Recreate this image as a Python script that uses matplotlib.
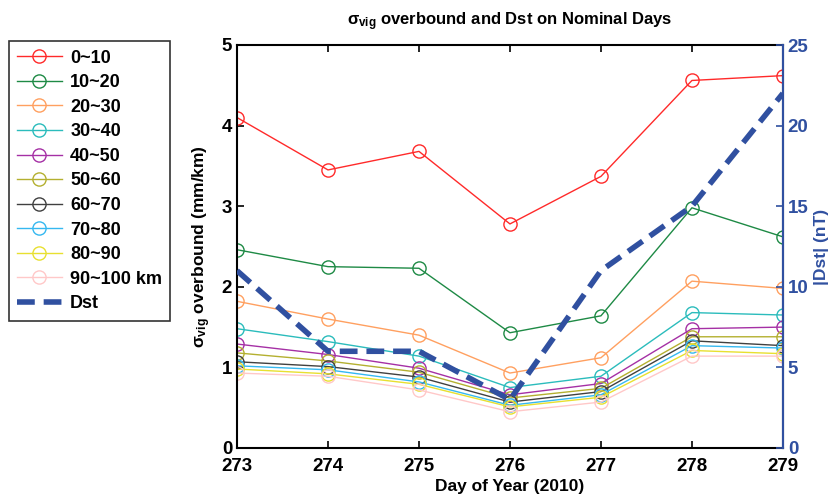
import numpy as np
import matplotlib
matplotlib.use("Agg")
import matplotlib.pyplot as plt

plt.rcParams['font.family'] = ['Liberation Sans', 'DejaVu Sans']
plt.rcParams['font.weight'] = 'bold'
plt.rcParams['mathtext.fontset'] = 'custom'
plt.rcParams['mathtext.rm'] = 'Liberation Sans:bold'
plt.rcParams['mathtext.it'] = 'Liberation Sans:bold'
plt.rcParams['mathtext.bf'] = 'Liberation Sans:bold'

# data
days = [273, 274, 275, 276, 277, 278, 279]
labels = ["0~10", "10~20", "20~30", "30~40", "40~50", "50~60",
          "60~70", "70~80", "80~90", "90~100 km"]
sigma = [
    [4.10, 3.45, 3.68, 2.78, 3.37, 4.56, 4.62],
    [2.46, 2.25, 2.23, 1.43, 1.64, 2.98, 2.62],
    [1.82, 1.60, 1.40, 0.93, 1.12, 2.07, 1.98],
    [1.48, 1.32, 1.14, 0.75, 0.89, 1.68, 1.65],
    [1.29, 1.16, 0.99, 0.66, 0.80, 1.48, 1.50],
    [1.18, 1.08, 0.94, 0.62, 0.74, 1.38, 1.38],
    [1.07, 1.01, 0.88, 0.57, 0.70, 1.33, 1.27],
    [1.02, 0.97, 0.82, 0.53, 0.66, 1.27, 1.24],
    [0.98, 0.92, 0.79, 0.51, 0.63, 1.21, 1.17],
    [0.93, 0.89, 0.72, 0.45, 0.57, 1.14, 1.14],
]
dst = [11, 6, 6, 3, 11, 15, 22]

colors = ['#ff2a2a', '#1e8a45', '#ffa060', '#2bbcbc', '#a530a5',
          '#b4b030', '#404040', '#35b8f0', '#e8e030', '#ffc8c8']
dst_color = '#3050a0'

fig = plt.figure(figsize=(8.36, 5.0), dpi=100)
ax = fig.add_axes([0.2835, 0.104, 0.653, 0.806])

handles = []
for vals, lab, c in zip(sigma, labels, colors):
    h, = ax.plot(days, vals, '-o', color=c, lw=1.0, mfc='none', mec=c,
                 ms=9.5, mew=1.0, label=lab)
    handles.append(h)

ax.set_xlim(273, 279)
ax.set_ylim(0, 5)
ax.set_xticks(days)
ax.set_yticks([0, 1, 2, 3, 4, 5])
ax.tick_params(direction='in', labelsize=13.5, width=1.2, length=5, top=True)
ax.tick_params(axis='x', pad=7)
for s in ax.spines.values():
    s.set_linewidth(1.5)
ax.set_xlabel('Day of Year (2010)', fontsize=12.5, fontweight='bold', labelpad=3)
ax.set_ylabel(r'$\sigma_{vig}$ overbound (mm/km)', fontsize=12.5, fontweight='bold', labelpad=6)
ax.set_title(r'$\sigma_{vig}$ overbound and Dst on Nominal Days', fontsize=12,
             fontweight='bold', pad=14)

ax2 = ax.twinx()
hd, = ax2.plot(days, dst, '--', color=dst_color, lw=4, dashes=(3.2, 1.6), label='Dst')
handles.append(hd)
ax2.set_ylim(0, 25)
ax2.set_yticks([0, 5, 10, 15, 20, 25])
ax2.tick_params(direction='in', labelsize=13.5, width=1.2, length=5, colors=dst_color)
ax2.spines['right'].set_color(dst_color)
ax2.spines['right'].set_linewidth(1.5)
ax2.spines['left'].set_visible(False)
ax2.spines['top'].set_visible(False)
ax2.spines['bottom'].set_visible(False)
ax2.set_ylabel('|Dst| (nT)', fontsize=12.5, fontweight='bold', color=dst_color, labelpad=4)

leg = fig.legend(handles=handles, loc='upper left', bbox_to_anchor=(0.004, 0.928),
                 fontsize=13, frameon=True, fancybox=False, edgecolor='black',
                 handlelength=2.5, borderpad=0.45, labelspacing=0.42, handletextpad=0.45,
                 borderaxespad=0.3)
leg.get_frame().set_linewidth(1.2)

fig.savefig('out.png', dpi=100)
